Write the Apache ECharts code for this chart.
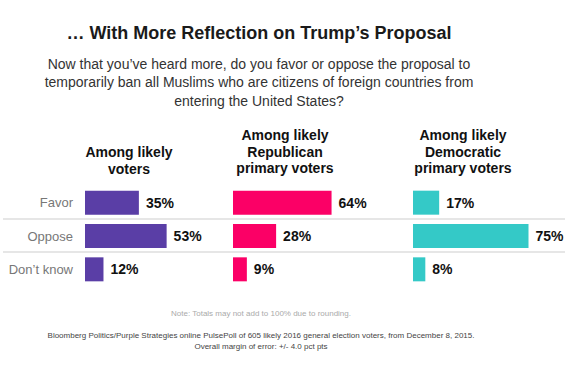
<!DOCTYPE html>
<html>
<head>
<meta charset="utf-8">
<script src="https://cdn.jsdelivr.net/npm/echarts@6/dist/echarts.min.js"></script>
<style>
html,body{margin:0;padding:0;background:#fff;}
#c{width:570px;height:368px;}
</style>
</head>
<body>
<div id="c"></div>
<script>
const categories = ['Favor', 'Oppose', "Don\u2019t know"];
const panelTitles = ['Among likely\nvoters', 'Among likely\nRepublican\nprimary voters', 'Among likely\nDemocratic\nprimary voters'];
const allVoters = [35, 53, 12];
const republicanVoters = [64, 28, 9];
const democraticVoters = [17, 75, 8];
const colors = ['#5a3ea6', '#fb0066', '#34c9c7'];

const seriesValues = [allVoters, republicanVoters, democraticVoters];
const gridLefts = [85, 233, 413];
const headCenters = [129, 285, 463];
const headTops = [144, 127, 127];

const chart = echarts.init(document.getElementById('c'), null, {renderer: 'svg'});
const FONT = "'Liberation Sans', Arial, Helvetica, sans-serif";
const CX = 259;

const grids = [], xAxes = [], yAxes = [], series = [];
seriesValues.forEach((vals, i) => {
  grids.push({left: gridLefts[i], top: 186, width: 154, height: 100, containLabel: false});
  xAxes.push({type: 'value', gridIndex: i, min: 0, max: 100, show: false});
  yAxes.push({
    type: 'category', gridIndex: i, data: categories, inverse: true,
    axisLine: {show: false}, axisTick: {show: false}, splitLine: {show: false},
    axisLabel: {show: i === 0, margin: 12, color: '#777', fontSize: 13, fontFamily: FONT}
  });
  series.push({
    type: 'bar', xAxisIndex: i, yAxisIndex: i, data: vals, barWidth: 24,
    itemStyle: {color: colors[i]}, silent: true,
    label: {show: true, position: 'right', distance: 7, formatter: '{c}%',
            color: '#111', fontWeight: 'bold', fontSize: 14, fontFamily: FONT}
  });
});

const graphic = [
  {type: 'text', x: CX, y: 33, style: {text: '\u2026 With More Reflection on Trump\u2019s Proposal', textAlign: 'center', textVerticalAlign: 'middle', font: "bold 18px 'Liberation Sans', Arial, sans-serif", fill: '#1a1a1a'}},
  {type: 'text', x: CX, y: 82, style: {text: 'Now that you\u2019ve heard more, do you favor or oppose the proposal to\ntemporarily ban all Muslims who are citizens of foreign countries from\nentering the United States?', textAlign: 'center', textVerticalAlign: 'middle', lineHeight: 18.5, font: "14px 'Liberation Sans', Arial, sans-serif", fill: '#333'}},
  {type: 'line', shape: {x1: 3, y1: 219, x2: 565, y2: 219}, style: {stroke: '#e6e6e6', lineWidth: 2}},
  {type: 'line', shape: {x1: 3, y1: 252, x2: 565, y2: 252}, style: {stroke: '#e6e6e6', lineWidth: 2}},
  {type: 'text', x: CX + 2, y: 313, style: {text: 'Note: Totals may not add to 100% due to rounding.', textAlign: 'center', textVerticalAlign: 'middle', font: "8px 'Liberation Sans', Arial, sans-serif", fill: '#aaa'}},
  {type: 'text', x: CX + 2, y: 340.5, style: {text: 'Bloomberg Politics/Purple Strategies online PulsePoll of 605 likely 2016 general election voters, from December 8, 2015.\nOverall margin of error: +/- 4.0 pct pts', textAlign: 'center', textVerticalAlign: 'middle', lineHeight: 11, font: "8px 'Liberation Sans', Arial, sans-serif", fill: '#444'}}
];
panelTitles.forEach((t, i) => {
  graphic.push({type: 'text', x: headCenters[i], y: headTops[i], style: {text: t, textAlign: 'center', textVerticalAlign: 'top', lineHeight: 16.5, font: "bold 14px 'Liberation Sans', Arial, sans-serif", fill: '#111'}});
});

chart.setOption({
  animation: false,
  backgroundColor: '#fff',
  grid: grids, xAxis: xAxes, yAxis: yAxes, series: series,
  graphic: graphic
});
</script>
</body>
</html>
